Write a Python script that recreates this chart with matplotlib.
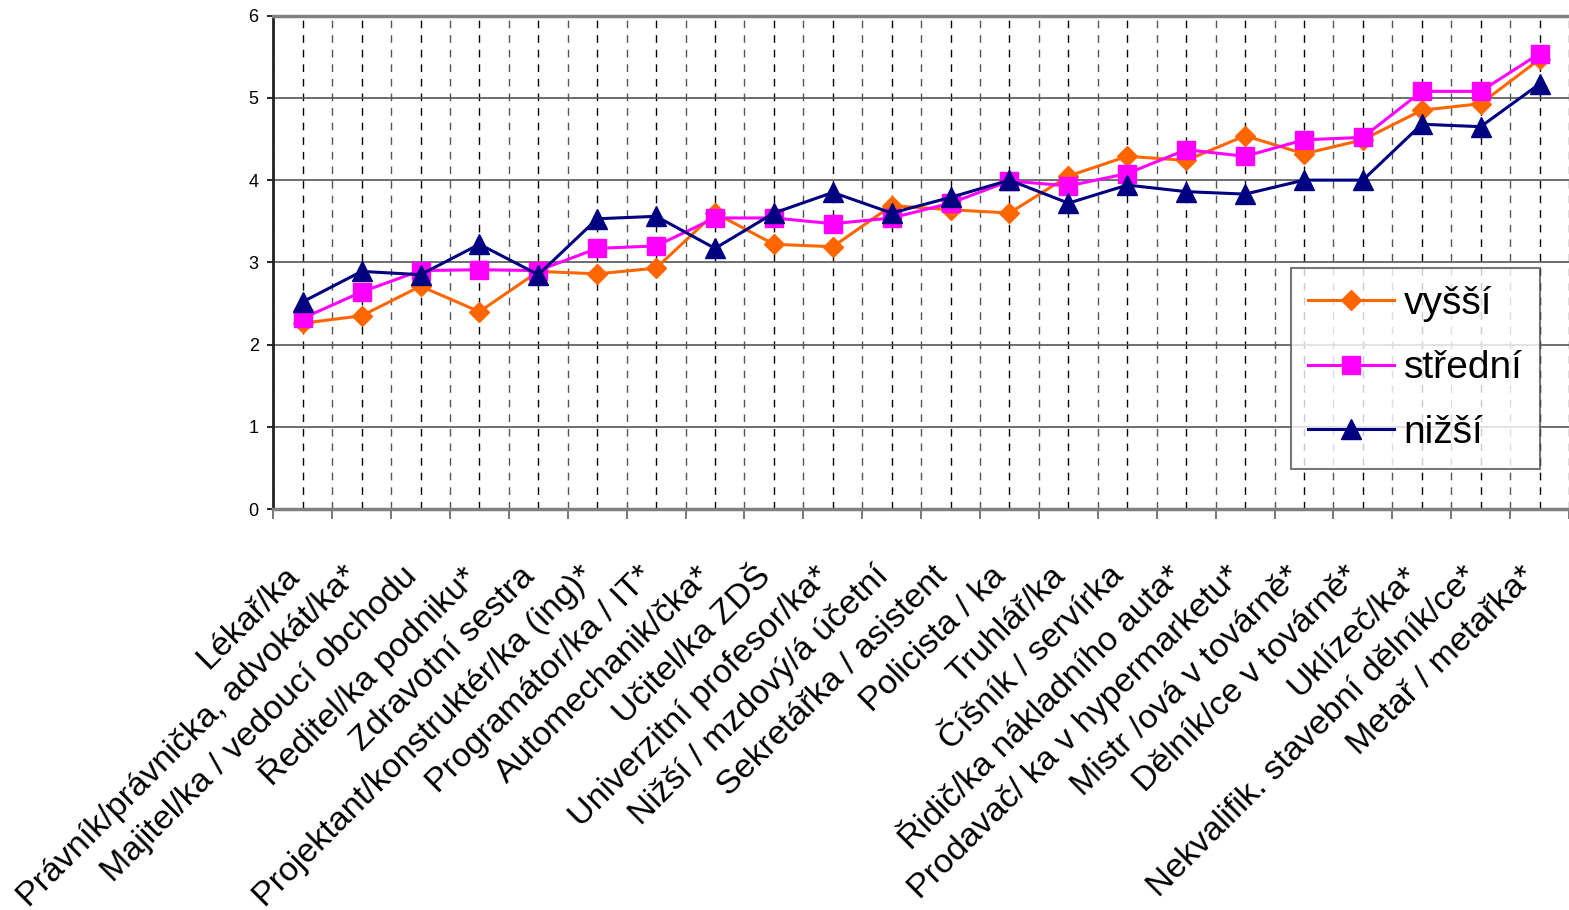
import matplotlib.pyplot as plt
import matplotlib.transforms as mtransforms
import numpy as np

plt.rcParams['font.family'] = ['Liberation Sans', 'DejaVu Sans']

# categories (x axis) and the three series
categories = ['Lékař/ka', 'Právník/právnička, advokát/ka*', 'Majitel/ka / vedoucí obchodu',
              'Ředitel/ka podniku*', 'Zdravotní sestra', 'Projektant/konstruktér/ka (ing)*',
              'Programátor/ka / IT*', 'Automechanik/čka*', 'Učitel/ka ZDŠ',
              'Univerzitní profesor/ka*', 'Nižší / mzdový/á účetní', 'Sekretářka / asistent',
              'Policista / ka', 'Truhlář/ka', 'Číšník / servírka', 'Řidič/ka nákladního auta*',
              'Prodavač/ ka v hypermarketu*', 'Mistr /ová v továrně*', 'Dělník/ce v továrně*',
              'Uklízeč/ka*', 'Nekvalifik. stavební dělník/ce*', 'Metař / metařka*']
vyssi = [2.26, 2.35, 2.71, 2.40, 2.89, 2.86, 2.93, 3.60, 3.22, 3.19, 3.69,
         3.64, 3.60, 4.05, 4.29, 4.24, 4.54, 4.32, 4.49, 4.85, 4.93, 5.47]
stredni = [2.32, 2.64, 2.90, 2.91, 2.90, 3.17, 3.20, 3.54, 3.54, 3.47, 3.54,
           3.72, 3.99, 3.93, 4.08, 4.37, 4.29, 4.49, 4.52, 5.08, 5.08, 5.54]
nizsi = [2.52, 2.89, 2.85, 3.22, 2.85, 3.53, 3.56, 3.17, 3.60, 3.85, 3.60,
         3.79, 4.00, 3.72, 3.94, 3.86, 3.83, 4.00, 4.00, 4.68, 4.65, 5.17]
series_names = ['vyšší', 'střední', 'nižší']
yticks = [0, 1, 2, 3, 4, 5, 6]

W, H = 1569, 910
fig = plt.figure(figsize=(W / 100, H / 100), dpi=100)
ax = fig.add_axes([273.3 / W, 1 - 509 / H, 1 - 273.3 / W, (509 - 15.7) / H])

x = np.arange(len(categories))
bounds = np.arange(-0.5, len(categories) + 0.5, 1)

ax.plot(x, vyssi, color='#FF6600', lw=2.2, marker='D', ms=10.5, mec='#FF6600',
        label=series_names[0], clip_on=False, zorder=3)
ax.plot(x, stredni, color='#FF00FF', lw=2.2, marker='s', ms=12.5, mec='#FF00FF',
        label=series_names[1], clip_on=False, zorder=4)
ax.plot(x, nizsi, color='#000080', lw=2.2, marker='^', ms=15, mec='#000080',
        label=series_names[2], clip_on=False, zorder=5)

ax.set_xlim(-0.5, 21.24)
ax.set_ylim(0, 6)

# vertical dashed gridlines at category boundaries and centers
for b in bounds:
    ax.axvline(b, color='#555555', lw=1, dashes=(5.5, 5), zorder=0)
for c in x:
    ax.axvline(c, color='black', lw=1, dashes=(5.5, 5), zorder=0)
for yv in yticks[1:-1]:
    ax.axhline(yv, color='#555555', lw=1.2, zorder=0)

# boundary ticks, labels on the category centers
ax.set_xticks(bounds)
ax.set_xticklabels([])
ax.tick_params(axis='x', which='major', direction='out', length=7, width=1.2, color='#606060')
ax.set_xticks(x, minor=True)
ax.set_xticklabels(categories, minor=True, fontsize=24.5)
ax.tick_params(axis='x', which='minor', length=0, pad=45)
shift = mtransforms.ScaledTranslation(-8 / 100, 0, fig.dpi_scale_trans)
for lab in ax.get_xticklabels(minor=True):
    lab.set_rotation(45)
    lab.set_rotation_mode('anchor')
    lab.set_ha('right')
    lab.set_va('center')
    lab.set_transform(lab.get_transform() + shift)

ax.set_yticks(yticks)
ax.tick_params(axis='y', direction='out', length=4.5, width=1.2, labelsize=13, pad=6)

ax.spines['right'].set_visible(False)
ax.spines['top'].set_color('#808080')
ax.spines['top'].set_linewidth(2.5)
ax.spines['bottom'].set_color('#808080')
ax.spines['bottom'].set_linewidth(2.5)
ax.spines['left'].set_color('#222222')
ax.spines['left'].set_linewidth(2)

leg = ax.legend(loc='upper left', bbox_to_anchor=(1290.7 / W, 1 - 268 / H),
                bbox_transform=fig.transFigure, fontsize=28, frameon=True, fancybox=False,
                handlelength=2.2, handletextpad=0.25, borderpad=0.45, labelspacing=0.74,
                borderaxespad=0)
leg.get_frame().set_edgecolor('#555555')
leg.get_frame().set_linewidth(1.5)
leg.set_zorder(10)

fig.savefig('out.png', dpi=100)
